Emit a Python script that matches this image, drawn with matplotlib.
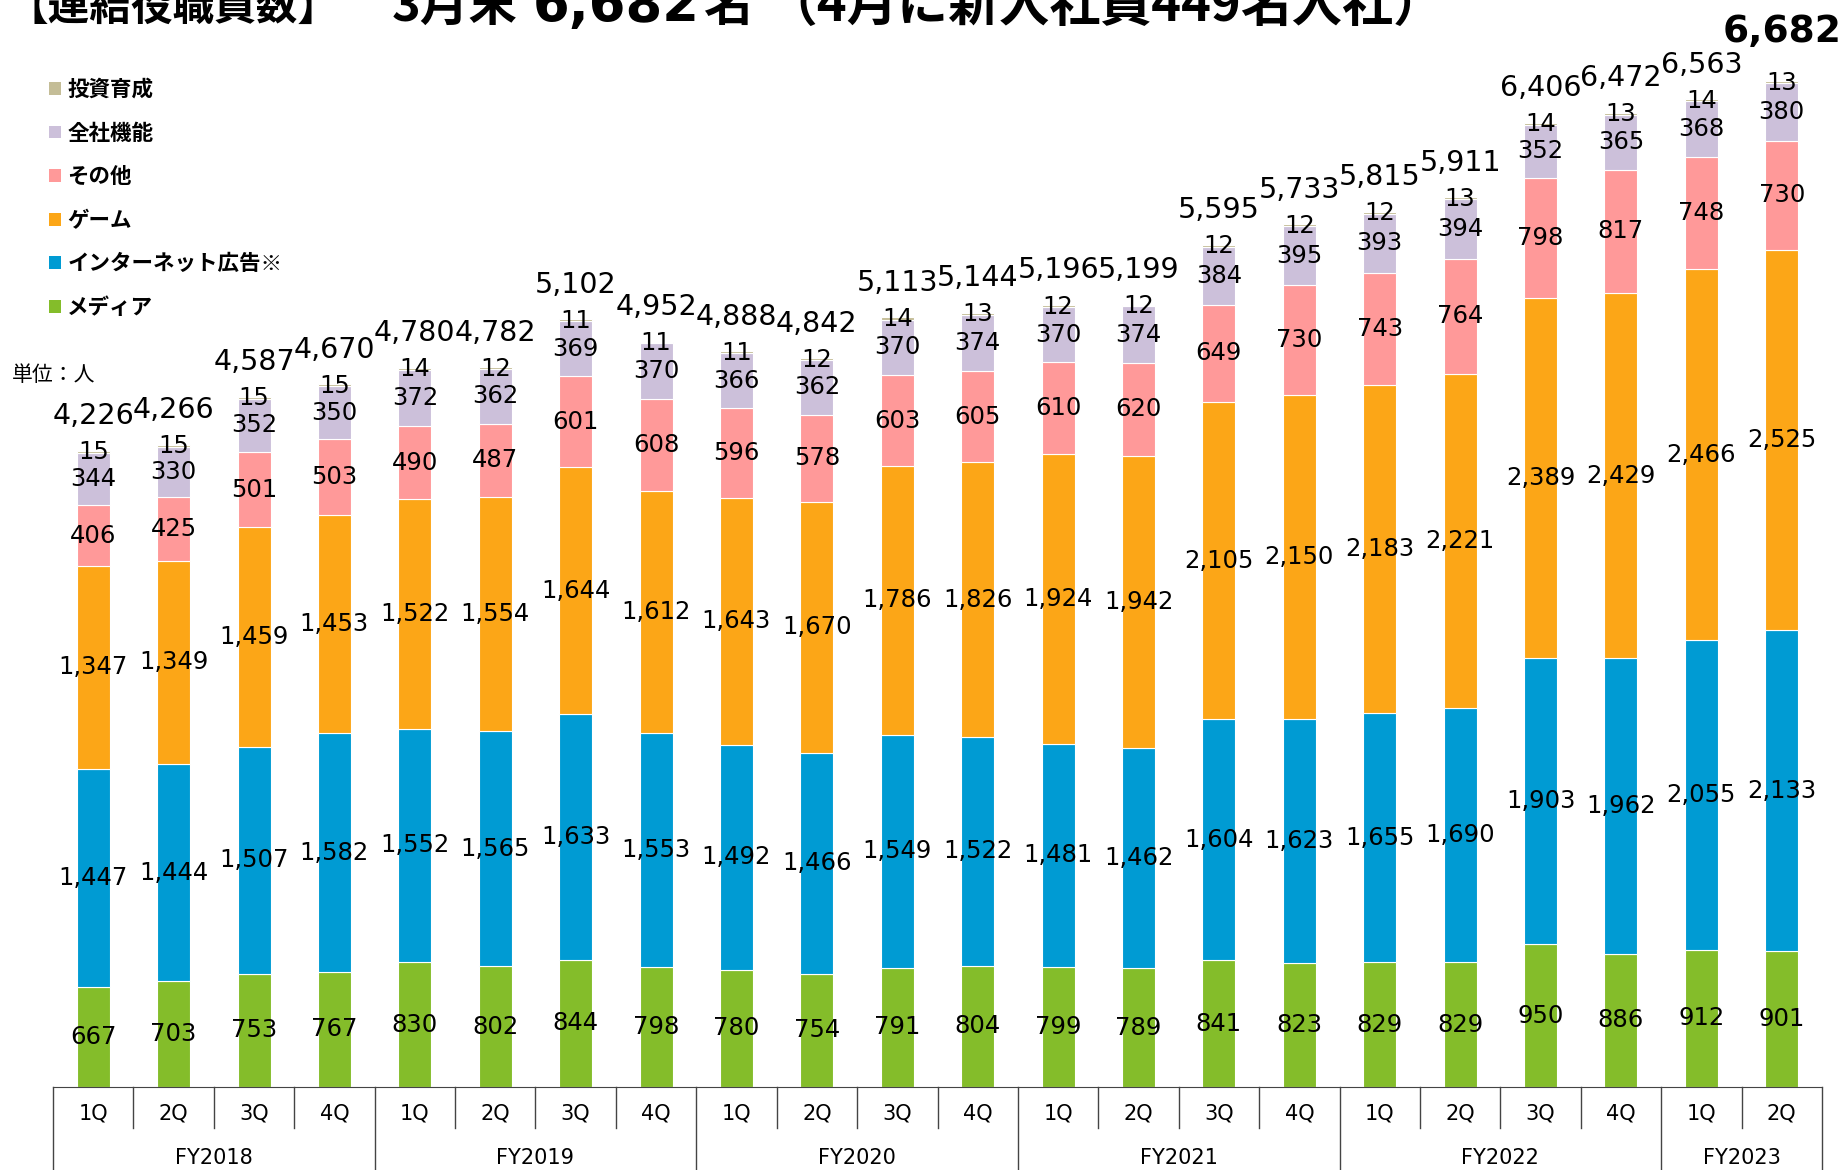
import matplotlib
matplotlib.use("Agg")
import matplotlib.pyplot as plt
import numpy as np
from matplotlib.patches import Patch
from matplotlib import transforms

plt.rcParams["font.family"] = ["DejaVu Sans", "Noto Sans CJK JP"]

QUARTERS = ["1Q", "2Q", "3Q", "4Q"] * 5 + ["1Q", "2Q"]
YEARS = ["FY2018", "FY2019", "FY2020", "FY2021", "FY2022", "FY2023"]
YEAR_LEN = [4, 4, 4, 4, 4, 2]

SERIES = ["メディア", "インターネット広告※", "ゲーム", "その他", "全社機能", "投資育成"]
media = [667, 703, 753, 767, 830, 802, 844, 798, 780, 754, 791, 804, 799, 789, 841, 823, 829, 829, 950, 886, 912, 901]
internet_ad = [1447, 1444, 1507, 1582, 1552, 1565, 1633, 1553, 1492, 1466, 1549, 1522, 1481, 1462, 1604, 1623, 1655, 1690, 1903, 1962, 2055, 2133]
game = [1347, 1349, 1459, 1453, 1522, 1554, 1644, 1612, 1643, 1670, 1786, 1826, 1924, 1942, 2105, 2150, 2183, 2221, 2389, 2429, 2466, 2525]
other = [406, 425, 501, 503, 490, 487, 601, 608, 596, 578, 603, 605, 610, 620, 649, 730, 743, 764, 798, 817, 748, 730]
corporate = [344, 330, 352, 350, 372, 362, 369, 370, 366, 362, 370, 374, 370, 374, 384, 395, 393, 394, 352, 365, 368, 380]
investment = [15, 15, 15, 15, 14, 12, 11, 11, 11, 12, 14, 13, 12, 12, 12, 12, 12, 13, 14, 13, 14, 13]
totals = [4226, 4266, 4587, 4670, 4780, 4782, 5102, 4952, 4888, 4842, 5113, 5144, 5196, 5199, 5595, 5733, 5815, 5911, 6406, 6472, 6563, 6682]

COLORS = ["#84BD2A", "#009BD3", "#FCA617", "#FF9999", "#CCC0DA", "#C4BD97"]

W, H = 1843, 1170
fig = plt.figure(figsize=(W / 100, H / 100), dpi=100)
fig.patch.set_facecolor("white")
ax_left, ax_right, ax_bottom = 53, 1822, 1087
ax = fig.add_axes([ax_left / W, (H - ax_bottom) / H, (ax_right - ax_left) / W, ax_bottom / H])

x = np.arange(len(totals))
data = [media, internet_ad, game, other, corporate, investment]
bottom = np.zeros(len(x))
handles = []
for name, vals, col in zip(SERIES, data, COLORS):
    vals = np.array(vals)
    ax.bar(x, vals, 0.41, bottom=bottom, color=col, edgecolor="white", linewidth=0.8)
    if name != "投資育成":
        for xi, b, v in zip(x, bottom, vals):
            ax.text(xi, b + v / 2, f"{v:,}", ha="center", va="center", fontsize=17.5, color="black")
    else:
        # tiny segment: label sits on the top edge of the bar
        for xi, b, v in zip(x, bottom, vals):
            ax.text(xi, b + v - 10, str(v), ha="center", va="center", fontsize=17.5, color="black")
    bottom += vals
    handles.append(Patch(facecolor=col, label=name))

# totals above the bars
for xi, t in zip(x, totals):
    if xi == len(x) - 1:
        ax.text(xi, t + 210, f"{t:,}", ha="center", va="bottom", fontsize=27, fontweight="bold")
    else:
        ax.text(xi, t + 230, f"{t:,}", ha="center", va="center", fontsize=20.5)

ax.set_xlim(-0.5, len(x) - 0.5)
ax.set_ylim(0, ax_bottom / 0.1505)
for side in ["left", "right", "top"]:
    ax.spines[side].set_visible(False)
ax.spines["bottom"].set_color("#444")
ax.set_xticks([])
ax.set_yticks([])

# category table under the axis
trans = transforms.blended_transform_factory(ax.transData, ax.transAxes)
short_y = -41 / ax_bottom
long_y = -90 / ax_bottom
year_edges = np.cumsum([0] + YEAR_LEN)
for i in range(len(x) + 1):
    yb = long_y if i in year_edges else short_y
    ax.plot([i - 0.5, i - 0.5], [0, yb], color="#444", lw=1, transform=trans, clip_on=False)
for xi, q in zip(x, QUARTERS):
    ax.text(xi, -26 / ax_bottom, q, transform=trans, ha="center", va="center", fontsize=15)
for k, yr in enumerate(YEARS):
    mid = (year_edges[k] + year_edges[k + 1] - 1) / 2
    ax.text(mid, -71 / ax_bottom, yr, transform=trans, ha="center", va="center", fontsize=15)

# legend (top to bottom: investment first)
fig.legend(handles=handles[::-1], loc="upper left", bbox_to_anchor=(49 / W, 1 - 79 / H),
           frameon=False, handlelength=0.55, handleheight=0.55,
           handletextpad=0.3, labelspacing=1.05, borderpad=0, borderaxespad=0,
           prop={"family": ["Noto Sans CJK JP"], "weight": "bold", "size": 15.5})

fig.text(12 / W, 1 - 375 / H, "単位：人", fontsize=15, ha="left", va="center",
         family=["Noto Sans CJK JP"])

# title, cut off at the top edge as in the source slide
base = 1 - 21 / H
cjk = ["Noto Sans CJK JP"]
fig.text(6 / W, base, "【連結役職員数】", fontsize=30, fontweight="bold",
         ha="left", va="baseline", family=cjk)
fig.text(392 / W, base, "3月末", fontsize=35, fontweight="bold", ha="left", va="baseline", family=cjk)
fig.text(533 / W, base, "6,682", fontsize=38, fontweight="bold", ha="left", va="baseline",
         family=["DejaVu Sans"])
fig.text(703 / W, base, "名", fontsize=35, fontweight="bold", ha="left", va="baseline", family=cjk)
fig.text(766 / W, base, "（4月に新入社員449名入社）", fontsize=36.5, fontweight="bold",
         ha="left", va="baseline", family=cjk)

fig.savefig("out.png", dpi=100, facecolor="white")
